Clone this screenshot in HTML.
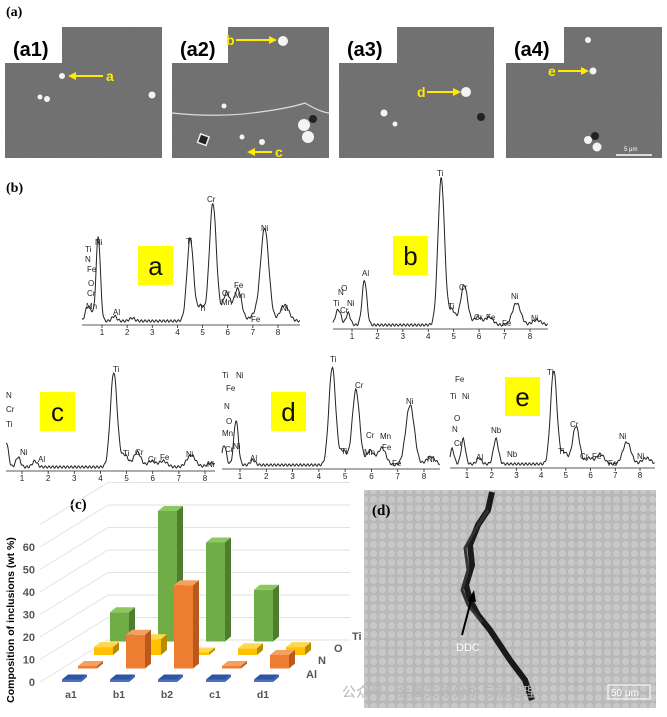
<!DOCTYPE html>
<html><head><meta charset="utf-8"><style>
body{margin:0;background:#fff;width:667px;height:717px;overflow:hidden;font-family:"Liberation Sans","Noto Sans CJK SC",sans-serif}
svg{display:block}
</style></head><body>
<svg id="fig" width="667" height="717" viewBox="0 0 667 717" xmlns="http://www.w3.org/2000/svg">
<defs>
<filter id="noise" x="0" y="0" width="100%" height="100%"><feTurbulence type="fractalNoise" baseFrequency="0.9" numOctaves="2" seed="3"/><feColorMatrix type="matrix" values="0 0 0 0 0.3  0 0 0 0 0.3  0 0 0 0 0.3  0 0 0 0.25 0"/></filter>
<pattern id="cells" width="9" height="9" patternUnits="userSpaceOnUse"><rect width="9" height="9" fill="#b8b8b8"/><circle cx="4.5" cy="4.5" r="3.6" fill="#c8c8c8"/></pattern>
</defs>
<text x="6" y="16" font-family="Liberation Serif" font-weight="bold" font-size="14">(a)</text>
<g id="sem"></g>
<text x="6" y="192" font-family="Liberation Serif" font-weight="bold" font-size="14">(b)</text>
<g id="spectra"></g>
<g id="bar3d"></g>
<g id="micro">
<rect x="364" y="490" width="292" height="218" fill="url(#cells)"/>
<path d="M492 492 L488 510 L478 525 L470 545 L472 565 L466 585 L470 600 L478 615 L490 630 L500 645 L510 660 L525 680 L532 700" stroke="#1a1a1a" stroke-width="6" fill="none"/>
<path d="M488 510 L475 530 L465 548 L468 570 L462 590 L468 605 L482 622" stroke="#333" stroke-width="3" fill="none"/>
<text x="372" y="515" font-family="Liberation Serif" font-weight="bold" font-size="15">(d)</text>
<line x1="462" y1="635" x2="472" y2="597" stroke="#000" stroke-width="2"/>
<polygon points="474,590 468,601 476,602" fill="#000"/>
<text x="456" y="651" fill="#fff" font-size="11">DDC</text>
<rect x="608" y="685" width="42" height="14" fill="none" stroke="#fff"/>
<text x="611" y="696" fill="#fff" font-size="10">50 μm</text>
</g>
<text x="342" y="697" fill="#b5b5b5" font-size="14">公众号 · 金属失效分析与热处理</text>
</svg>
<script>
const NS="http://www.w3.org/2000/svg";
function mk(tag,attrs,parent,txt){const e=document.createElementNS(NS,tag);for(const k in attrs)e.setAttribute(k,attrs[k]);if(txt!==undefined)e.textContent=txt;parent.appendChild(e);return e;}

/* ---------- SEM images ---------- */
const sem=document.getElementById('sem');
const semX=[5,172,339,506], semW=[157,157,155,156];
const semLbl=['(a1)','(a2)','(a3)','(a4)'];
const semBox=[57,56,58,58];
for(let i=0;i<4;i++){
  const g=mk('g',{},sem);
  
  
  mk('rect',{x:semX[i],y:27,width:semW[i],height:131,fill:'#6c6c6c'},g);
  mk('rect',{x:semX[i],y:27,width:semW[i],height:131,filter:'url(#noise)'},g);
  mk('rect',{x:semX[i],y:27,width:semBox[i],height:36,fill:'#fff'},g);
  const t=mk('text',{x:semX[i]+8,y:56,'font-size':20,'font-weight':'bold'},g,semLbl[i]);
  
  
}
const dots=[[62,76,3],[40,97,2.5],[47,99,3],[152,95,3.5],[283,41,5],[224,106,2.5],[242,137,2.5],[262,142,3],[304,125,6],[308,137,6],[384,113,3.5],[395,124,2.5],[466,92,5],[593,71,3.5],[588,40,3],[588,140,4],[597,147,4.5]];
dots.forEach(d=>mk('circle',{cx:d[0],cy:d[1],r:d[2],fill:'#f4f4f4'},sem));
[[313,119],[481,117],[595,136]].forEach(d=>mk('circle',{cx:d[0],cy:d[1],r:4,fill:'#222'},sem));
mk('path',{d:'M172 113 Q220 118 260 112 Q290 108 305 103 Q320 112 329 113',stroke:'#ddd','stroke-width':1.2,fill:'none'},sem);
mk('rect',{x:199,y:135,width:9,height:9,fill:'#222',stroke:'#eee','stroke-width':1.5,transform:'rotate(20 203 139)'},sem);
const arrows=[[103,76,68,'a'],[236,40,277,'b'],[272,152,247,'c'],[427,92,461,'d'],[558,71,589,'e']];
arrows.forEach(a=>{
  const dir=a[2]>a[0]?1:-1;
  mk('line',{x1:a[0],y1:a[1],x2:a[2]-dir*6,y2:a[1],stroke:'#ffea00','stroke-width':2},sem);
  mk('polygon',{points:`${a[2]},${a[1]} ${a[2]-dir*8},${a[1]-4} ${a[2]-dir*8},${a[1]+4}`,fill:'#ffea00'},sem);
  const lx=dir>0?a[0]-10:a[0]+3;
  const t=mk('text',{x:lx,y:a[1]+5,fill:'#ffea00','font-size':14,'font-weight':'bold'},sem,a[3]);
  
  
});
mk('line',{x1:616,y1:155,x2:652,y2:155,stroke:'#fff','stroke-width':1.5},sem);
mk('text',{x:624,y:151,fill:'#fff','font-size':6},sem,'5 μm');

/* ---------- EDS spectra ---------- */
const specNames=['a','b','c','d','e'];
const energiesA=[0.4,0.55,0.85,1.49,2.2,4.51,4.93,5.41,5.95,6.4,7.06,7.47,8.26];
const heightsA=[12,10,85,5,3,83,15,118,28,32,6,93,16];
const energiesB=[0.4,0.52,0.85,1.49,4.51,4.93,5.41,5.95,6.4,7.47,8.26];
const heightsB=[10,10,12,45,147,15,40,8,8,22,5];
const energiesC=[0.4,0.85,1.49,4.51,4.93,5.41,5.95,6.4,7.47,8.26];
const heightsC=[25,10,6,95,12,15,6,6,12,4];
const energiesD=[0.4,0.85,1.49,4.51,4.93,5.41,5.95,6.4,7.47,8.26];
const heightsD=[20,45,5,98,14,75,14,17,60,8];
const energiesE=[0.4,0.85,1.49,2.17,4.51,4.93,5.41,5.95,6.4,7.47,8.26];
const heightsE=[15,25,6,25,94,12,38,6,10,22,6];
const specE=[energiesA,energiesB,energiesC,energiesD,energiesE];
const specH=[heightsA,heightsB,heightsC,heightsD,heightsE];
const specGeom=[{x1:102,x8:278,base:323,x0:82,xe:300},{x1:352,x8:530,base:327,x0:333,xe:548},{x1:22,x8:205,base:469,x0:6,xe:215},{x1:240,x8:424,base:467,x0:222,xe:440},{x1:467,x8:640,base:466,x0:450,xe:655}];
const boxes=[[138,246],[393,236],[40,392],[271,392],[505,377]];
const specLabels=[
 [['Ti',85,252],['N',85,262],['Fe',87,272],['O',88,286],['Cr',87,296],['Mn',86,309],['Ni',95,245],['Al',113,315],['Ti',186,244],['Ti',199,311],['Cr',207,202],['Cr',222,296],['Mn',221,305],['Fe',234,288],['Mn',234,298],['Fe',251,322],['Ni',261,231],['Ni',281,311]],
 [['N',338,295],['O',341,291],['Ti',333,306],['Cr',340,313],['Ni',347,306],['Al',362,276],['Ti',437,176],['Ti',448,309],['Cr',459,290],['Cr',474,320],['Fe',486,320],['Fe',502,326],['Ni',511,299],['Ni',531,321]],
 [['N',6,398],['Cr',6,412],['Ti',6,427],['Ni',20,455],['Al',38,462],['Ti',113,372],['Ti',123,456],['Cr',135,455],['Cr',148,462],['Fe',160,460],['Ni',186,457],['Ni',207,467]],
 [['Ti',222,378],['Ni',236,378],['Fe',226,391],['N',224,409],['O',226,424],['Mn',222,436],['Cr',225,452],['Ni',233,449],['Al',250,461],['Ti',330,362],['Ti',341,454],['Cr',355,388],['Cr',366,438],['Mn',364,455],['Fe',382,450],['Mn',380,439],['Fe',392,466],['Ni',406,404],['Ni',427,462]],
 [['Fe',455,382],['Ti',450,399],['Ni',462,399],['O',454,421],['N',452,432],['Cr',454,446],['Al',476,460],['Nb',491,433],['Nb',507,457],['Ti',547,375],['Ti',558,454],['Cr',570,427],['Cr',580,459],['Fe',592,459],['Fe',608,466],['Ni',619,439],['Ni',637,459]]
];
const spG=document.getElementById('spectra');
for(let s=0;s<5;s++){
  const g=mk('g',{},spG);
  
  
  const G=specGeom[s], kx=(G.x8-G.x1)/7;
  const xs=e=>G.x1+(e-1)*kx;
  const E=specE[s],H=specH[s];
  let pts=[];
  for(let px=G.x0;px<=G.xe;px+=0.7){
    const e=(px-G.x1)/kx+1;
    let y=G.base-2-Math.sin(px*1.7)*1.2;
    for(let i=0;i<E.length;i++){const sig=0.075+0.012*E[i];y-=H[i]*Math.exp(-Math.pow(e-E[i],2)/(2*sig*sig));}
    pts.push(px.toFixed(1)+','+y.toFixed(1));
  }
  const pl=mk('polyline',{points:pts.join(' '),fill:'none',stroke:'#222','stroke-width':1},g);
  
  
  mk('line',{x1:G.x0,y1:G.base+2,x2:G.xe,y2:G.base+2,stroke:'#222','stroke-width':0.8},g);
  for(let k=1;k<=8;k++){
    mk('line',{x1:xs(k),y1:G.base+2,x2:xs(k),y2:G.base+5,stroke:'#222','stroke-width':0.8},g);
    const t=mk('text',{x:xs(k),y:G.base+12,'font-size':8,'text-anchor':'middle',fill:'#222'},g,String(k));
    
    
  }
  specLabels[s].forEach(l=>mk('text',{x:l[1],y:l[2],'font-size':8,fill:'#222'},g,l[0]));
  const b=boxes[s];
  const r=mk('rect',{x:b[0],y:b[1],width:35,height:39,fill:'#ffff00'},g);
  
  
  mk('text',{x:b[0]+17.5,y:b[1]+29,'font-size':26,'text-anchor':'middle',fill:'#111'},g,specNames[s]);
}

/* ---------- 3D bar chart ---------- */
const categories=['a1','b1','b2','c1','d1'];
const rows=['Al','N','O','Ti'];
const alValues=[0,0,0,0,0];
const nValues=[1,15,37,1,6];
const oValues=[3.5,7,0,3,3.5];
const tiValues=[13,58,44,23,0];
const yTicks=[0,10,20,30,40,50,60];
const rowValues=[alValues,nValues,oValues,tiValues];
const cg=document.getElementById('bar3d');


mk('text',{x:70,y:509,'font-family':'Liberation Serif','font-weight':'bold','font-size':15},cg,'(c)');
const yPx=v=>682-v*2.25;
for(let v=0;v<=70;v+=10){
  mk('polyline',{points:`40,${yPx(v)} 108,${yPx(v)-42} 350,${yPx(v)-42}`,fill:'none',stroke:'#e2e2e2','stroke-width':1},cg);
}
yTicks.forEach(v=>{const t=mk('text',{x:35,y:yPx(v)+4,'font-size':11,'font-weight':'bold','text-anchor':'end',fill:'#555'},cg,String(v));
  });
const yt=mk('text',{x:14,y:620,'font-size':10.5,'font-weight':'bold','text-anchor':'middle',transform:'rotate(-90 14 620)'},cg,'Composition of inclusions (wt %)');

const catX=i=>62+i*48;
categories.forEach((c,i)=>{const t=mk('text',{x:catX(i)+9,y:698,'font-size':10.5,'font-weight':'bold','text-anchor':'middle',fill:'#555'},cg,c);
  });
const rowLbl=[[306,678],[318,664],[334,652],[352,640]];
rows.forEach((r,i)=>{const t=mk('text',{x:rowLbl[i][0],y:rowLbl[i][1],'font-size':11,'font-weight':'bold',fill:'#555'},cg,r);
  });
const cols=[['#4472c4','#2f55a0','#3660b0'],['#ed7d31','#f5a060','#b85a1e'],['#ffc000','#ffd84d','#b88b00'],['#70ad47','#8bc860','#4e7d30']];
const bw=19,dx=6,dy=5;
for(let r=3;r>=0;r--){
  for(let i=categories.length-1;i>=0;i--){
    const v=rowValues[r][i];
    if(r===3&&v<=0)continue;
    const x=catX(i)+r*16, base=682-r*13.5, h=Math.max(v*2.25,2.5), top=base-h;
    const bg=mk('g',{},cg);
    
    
    mk('rect',{x:x,y:top,width:bw,height:h,fill:cols[r][0]},bg);
    mk('polygon',{points:`${x},${top} ${x+dx},${top-dy} ${x+bw+dx},${top-dy} ${x+bw},${top}`,fill:cols[r][1]},bg);
    mk('polygon',{points:`${x+bw},${top} ${x+bw+dx},${top-dy} ${x+bw+dx},${base-dy} ${x+bw},${base}`,fill:cols[r][2]},bg);
  }
}
</script>
</body></html>
